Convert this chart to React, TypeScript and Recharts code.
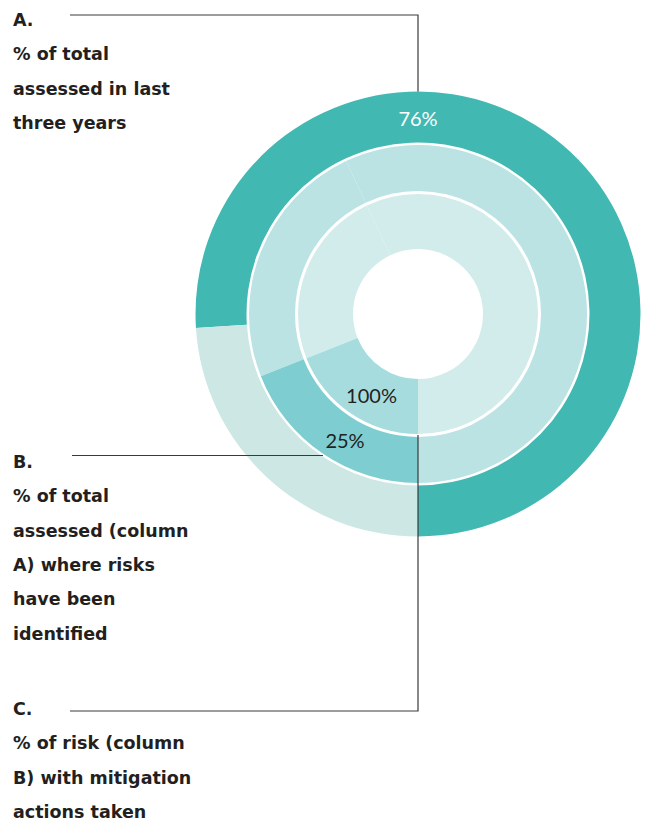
import { Cell, Pie, PieChart } from "recharts";

// ring A: % of total assessed in last three years
const ringA = [
  { name: "Assessed", value: 76 },
  { name: "Not assessed", value: 24 },
];
// ring B: share of the whole where risks have been identified (25% of A)
const ringB = [
  { name: "Assessed, no risk", value: 57 },
  { name: "Not assessed", value: 24 },
  { name: "Risk identified", value: 19 },
];
// ring C: risks with mitigation actions (100% of B)
const ringC = [
  { name: "Assessed, no risk", value: 57 },
  { name: "Not assessed", value: 24 },
  { name: "Mitigated", value: 19 },
];

const pctLabels = ["76%", "25%", "100%"];

const colorsA = ["#42B8B3", "#CDE7E5"];
const colorsB = ["#BBE3E4", "#BBE3E4", "#7DCDD1"];
const colorsC = ["#D2ECEC", "#D2ECEC", "#A7DCDF"];

const labelA = ["A.", "% of total", "assessed in last", "three years"];
const labelB = [
  "B.",
  "% of total",
  "assessed (column",
  "A) where risks",
  "have been",
  "identified",
];
const labelC = ["C.", "% of risk (column", "B) with mitigation", "actions taken"];

const W = 648;
const H = 820;
const CX = 418;
const CY = 314;
const LINE_H = 34.3;

const polar = (r: number, deg: number) => ({
  x: CX + r * Math.cos((-deg * Math.PI) / 180),
  y: CY + r * Math.sin((-deg * Math.PI) / 180),
});

const TextBlock = ({ lines, top }: { lines: string[]; top: number }) => (
  <>
    {lines.map((l, i) => (
      <text
        key={l + i}
        x={13}
        y={top + i * LINE_H}
        fill="#231F20"
        fontFamily="'DejaVu Sans', sans-serif"
        fontWeight={700}
        fontSize={17.5}
      >
        {l}
      </text>
    ))}
  </>
);

export default function App() {
  const pA = polar(196, 90);
  const pB = polar(146, 240);
  const pC = polar(93, 240);

  return (
    <div
      style={{
        position: "absolute",
        left: 0,
        top: 0,
        width: W,
        height: H,
        background: "#fff",
      }}
    >
      <PieChart width={W} height={H} margin={{ top: 0, right: 0, bottom: 0, left: 0 }}>
        <Pie
          data={ringA}
          dataKey="value"
          cx={CX}
          cy={CY}
          innerRadius={171.5}
          outerRadius={222.5}
          startAngle={-90}
          endAngle={270}
          stroke="none"
          isAnimationActive={false}
        >
          {ringA.map((d, i) => (
            <Cell key={d.name} fill={colorsA[i]} />
          ))}
        </Pie>
        <Pie
          data={ringB}
          dataKey="value"
          cx={CX}
          cy={CY}
          innerRadius={123}
          outerRadius={169}
          startAngle={-90}
          endAngle={270}
          stroke="none"
          isAnimationActive={false}
        >
          {ringB.map((d, i) => (
            <Cell key={d.name} fill={colorsB[i]} />
          ))}
        </Pie>
        <Pie
          data={ringC}
          dataKey="value"
          cx={CX}
          cy={CY}
          innerRadius={65}
          outerRadius={120}
          startAngle={-90}
          endAngle={270}
          stroke="none"
          isAnimationActive={false}
        >
          {ringC.map((d, i) => (
            <Cell key={d.name} fill={colorsC[i]} />
          ))}
        </Pie>
      </PieChart>

      <svg
        width={W}
        height={H}
        style={{ position: "absolute", left: 0, top: 0, pointerEvents: "none" }}
      >
        <text
          x={pA.x}
          y={pA.y}
          textAnchor="middle"
          dominantBaseline="central"
          fill="#fff"
          fontFamily="Lato, sans-serif"
          fontSize={20}
        >
          {pctLabels[0]}
        </text>
        <text
          x={pB.x}
          y={pB.y}
          textAnchor="middle"
          dominantBaseline="central"
          fill="#222"
          fontFamily="Lato, sans-serif"
          fontSize={20}
        >
          {pctLabels[1]}
        </text>
        <text
          x={pC.x}
          y={pC.y}
          textAnchor="middle"
          dominantBaseline="central"
          fill="#222"
          fontFamily="Lato, sans-serif"
          fontSize={20}
        >
          {pctLabels[2]}
        </text>

        <path d={`M70,15 H${CX} V${CY - 222.5}`} fill="none" stroke="#3a3a3a" strokeWidth={1.2} />
        <path d="M72,455.5 H323" fill="none" stroke="#3a3a3a" strokeWidth={1.2} />
        <path d={`M70,711 H${CX} V${CY + 121}`} fill="none" stroke="#3a3a3a" strokeWidth={1.2} />

        <TextBlock lines={labelA} top={26} />
        <TextBlock lines={labelB} top={468} />
        <TextBlock lines={labelC} top={715} />
      </svg>
    </div>
  );
}
